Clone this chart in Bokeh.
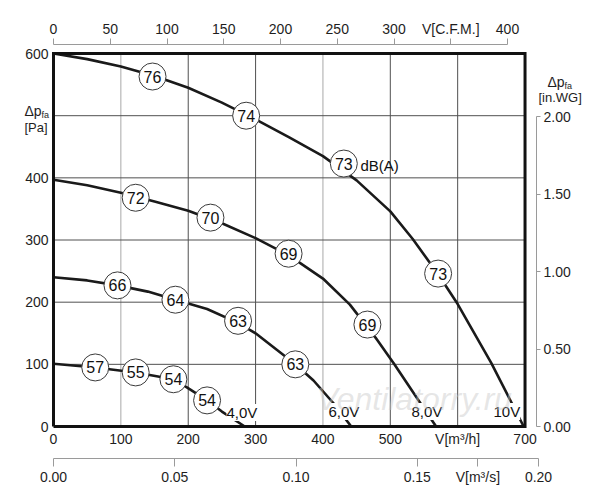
from bokeh.plotting import figure
from bokeh.models import Range1d, LinearAxis, FixedTicker, PrintfTickFormatter, Label
from bokeh.embed import file_html
from bokeh.resources import INLINE
from bokeh.core.properties import value

# ---------------- data ----------------
# fan curves: airflow V [m3/h] vs static pressure dp_fa [Pa]
v10_x = [0, 50, 100, 150, 200, 250, 300, 350, 400, 450, 500, 533, 571, 600, 650, 698]
v10_y = [600, 591, 579, 564, 545, 521, 494, 465, 435, 396, 346, 302, 245, 197, 102, 0]

v8_x = [0, 50, 100, 150, 200, 250, 300, 350, 400, 440, 478, 506, 545, 568]
v8_y = [397, 388, 376, 362, 347, 327, 303, 275, 238, 196, 143, 100, 37, 0]

v6_x = [0, 50, 95, 140, 181, 228, 273, 300, 359, 386, 416, 442]
v6_y = [240, 235, 227, 217, 204, 189, 167, 150, 100, 74, 37, 0]

v4_x = [0, 62, 122, 178, 198, 228, 250, 284]
v4_y = [101, 95, 87, 76, 63, 42, 24, 0]

# sound level markers [dB(A)] on the curves
db10 = ["76", "74", "73", "73"]
db10_x = [147, 286, 431, 571]
db10_y = [563, 500, 423, 246]

db8 = ["72", "70", "69", "69"]
db8_x = [122, 233, 349, 466]
db8_y = [368, 336, 278, 164]

db6 = ["66", "64", "63", "63"]
db6_x = [95, 181, 274, 359]
db6_y = [227, 204, 170, 100]

db4 = ["57", "55", "54", "54"]
db4_x = [62, 122, 178, 228]
db4_y = [95, 87, 76, 42]

# control voltage labels
volt_labels = ["4,0V", "6,0V", "8,0V", "10V"]

# axis ticks
x_max, y_max = 700, 600
x_ticks = [0, 100, 200, 300, 400, 500, 600, 700]
y_ticks = [0, 100, 200, 300, 400, 500, 600]
grid_x = [100, 200, 300, 400, 500, 600]
grid_y = [100, 200, 300, 400, 500]
cfm_ticks = [0, 50, 100, 150, 200, 250, 300, 350, 400]
m3s_ticks = [0, 0.05, 0.10, 0.15, 0.175, 0.20]
inwg_ticks = [0, 0.5, 1.0, 1.5, 2.0]

M3H_PER_CFM = 1.685
PA_PER_INWG = 249.0
M3H_PER_M3S = 3600.0

# ---------------- layout ----------------
FONT = "Liberation Sans"
W, H = 592, 492
X0_PX, Y0_PX = 53.0, 426.0          # picture position of (0 m3/h, 0 Pa)
KX = 485.0 / 720.0                   # px per m3/h
KY = 414.0 / 666.0                   # px per Pa

def dx(px):
    return (px - X0_PX) / KX

def dy(py):
    return (Y0_PX - py) / KY

p = figure(width=W, height=H, x_range=Range1d(dx(0), dx(W)), y_range=Range1d(dy(H), dy(0)),
           output_backend="svg", toolbar_location=None,
           x_axis_location=None, y_axis_location=None, min_border=0)
p.outline_line_color = None
p.background_fill_color = "white"
p.border_fill_color = "white"
p.xgrid.visible = False
p.ygrid.visible = False

p.extra_x_ranges = {"cfm": Range1d(dx(0) / M3H_PER_CFM, dx(W) / M3H_PER_CFM),
                    "m3s": Range1d(dx(0) / M3H_PER_M3S, dx(W) / M3H_PER_M3S)}
p.extra_y_ranges = {"inwg": Range1d(dy(H) / PA_PER_INWG, dy(0) / PA_PER_INWG)}

TICK_FS = "14px"
LABEL_COLOR = "#1e1e1e"
AXIS_GRAY = "#9a9a9a"

def style_axis(ax, line=True, tick_out=0, standoff=4):
    ax.major_label_text_font = FONT
    ax.major_label_text_font_size = TICK_FS
    ax.major_label_text_color = LABEL_COLOR
    ax.minor_tick_line_color = None
    ax.major_tick_in = 0
    ax.major_tick_out = tick_out
    ax.major_label_standoff = standoff
    if line:
        ax.axis_line_color = AXIS_GRAY
        ax.major_tick_line_color = AXIS_GRAY
    else:
        ax.axis_line_color = None
        ax.major_tick_line_color = None

# left Pa axis (at V = 0)
ax_left = LinearAxis(ticker=FixedTicker(ticks=y_ticks), bounds=(0, y_max), fixed_location=0,
                     major_label_overrides={500: ""})
style_axis(ax_left, line=False, tick_out=0, standoff=5)
p.add_layout(ax_left, "left")

# m3/h labels (at dp = 0)
ax_m3h = LinearAxis(ticker=FixedTicker(ticks=x_ticks), bounds=(0, x_max), fixed_location=0,
                    major_label_overrides={600: "V[m³/h]"})
style_axis(ax_m3h, line=False, tick_out=0, standoff=4)
p.add_layout(ax_m3h, "below")

# m3/s axis
ax_m3s = LinearAxis(x_range_name="m3s", ticker=FixedTicker(ticks=m3s_ticks), bounds=(0, 0.2),
                    fixed_location=dy(458),
                    formatter=PrintfTickFormatter(format="%.2f"),
                    major_label_overrides={0.175: "V[m³/s]"})
style_axis(ax_m3s, line=True, tick_out=8, standoff=2)
p.add_layout(ax_m3s, "below")

# CFM axis on top
ax_cfm = LinearAxis(x_range_name="cfm", ticker=FixedTicker(ticks=cfm_ticks), bounds=(0, 400),
                    fixed_location=dy(44),
                    major_label_overrides={350: "V[C.F.M.]"})
style_axis(ax_cfm, line=True, tick_out=6, standoff=2)
p.add_layout(ax_cfm, "above")

# in.WG axis on the right
ax_inwg = LinearAxis(y_range_name="inwg", ticker=FixedTicker(ticks=inwg_ticks), bounds=(0, 2),
                     fixed_location=dx(536),
                     formatter=PrintfTickFormatter(format="%.2f"))
style_axis(ax_inwg, line=True, tick_out=4, standoff=3)
p.add_layout(ax_inwg, "right")

# grid lines
DARK, LIGHT = "#505050", "#a8a8a8"
gx_colors = [LIGHT if g in (100, 400) else DARK for g in grid_x]
p.segment(x0=grid_x, y0=[0] * len(grid_x), x1=grid_x, y1=[y_max] * len(grid_x),
          line_color=gx_colors, line_width=1)
p.segment(x0=[0] * len(grid_y), y0=grid_y, x1=[x_max] * len(grid_y), y1=grid_y,
          line_color=DARK, line_width=1)

# curves
CURVE = "#1a1a1a"
for xs, ys in [(v10_x, v10_y), (v8_x, v8_y), (v6_x, v6_y), (v4_x, v4_y)]:
    p.line(xs, ys, line_color=CURVE, line_width=2.6, line_join="round")

# frame box
p.line([0, x_max, x_max, 0, 0], [0, 0, y_max, y_max, 0], line_color="#111111",
       line_width=3, line_join="miter")

# dB markers
all_db = db10 + db8 + db6 + db4
all_x = db10_x + db8_x + db6_x + db4_x
all_y = db10_y + db8_y + db6_y + db4_y
p.scatter(all_x, all_y, marker="circle", size=27, fill_color="white",
          line_color="#3a3a3a", line_width=1)
p.text(all_x, all_y, text=all_db, text_align="center", text_baseline="middle",
       text_font=value(FONT), text_font_size="16px", text_color="#111111")
p.text([dx(360)], [dy(165)], text=["dB(A)"], text_align="left", text_baseline="middle",
       text_font=value(FONT), text_font_size="15px", text_color="#111111")

# voltage labels (white background hides the curve under them)
p.text([dx(226), dx(328), dx(411), dx(493)], [dy(412), dy(411), dy(411), dy(411)],
       text=volt_labels, text_align="left", text_baseline="middle",
       text_font=value(FONT), text_font_size="15px", text_color="#111111",
       background_fill_color="white")

# watermark (drawn on top, faint)
p.add_layout(Label(x=dx(316), y=dy(398), text="Ventilatorry.ru", text_font=FONT,
                   text_font_style="italic", text_font_size="32px", text_color="#c8c8c8",
                   text_alpha=0.45, text_baseline="alphabetic"))

# axis titles
def lab(px, py, txt, size):
    p.add_layout(Label(x=dx(px), y=dy(py), text=txt, text_font=FONT, text_font_size=size,
                       text_color=LABEL_COLOR, text_baseline="alphabetic", text_align="left"))

lab(24, 110, "Δp", "14px")
lab(41, 114, "fa", "9px")
lab(24, 127, "[Pa]", "13px")
lab(547, 81, "Δp", "14px")
lab(564, 85, "fa", "9px")
lab(538, 97, "[in.WG]", "13px")

open("out.html", "w").write(file_html(p, INLINE))
